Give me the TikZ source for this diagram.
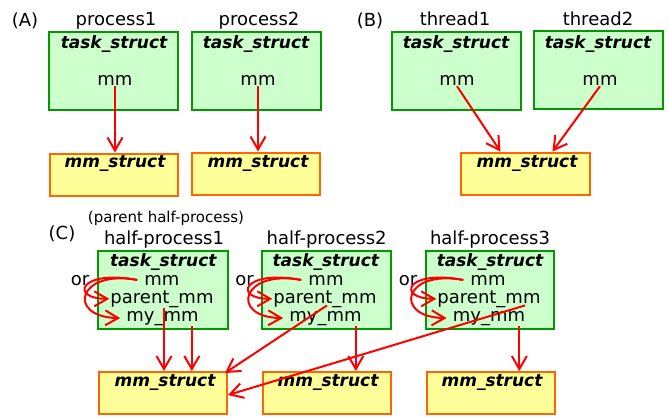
\documentclass[tikz,border=0pt]{standalone}
\usepackage{fontspec}
\setmainfont{DejaVu Sans}
\usetikzlibrary{arrows.meta}

\definecolor{TaskFill}{HTML}{CCFFCC}
\definecolor{TaskLine}{HTML}{009900}
\definecolor{MmFill}{HTML}{FFFF99}
\definecolor{MmLine}{HTML}{FF6600}
\definecolor{PtrRed}{HTML}{FF0000}

\tikzset{
  taskbox/.style={draw=TaskLine,fill=TaskFill,line width=2pt,minimum width=129pt,minimum height=78pt,inner sep=0pt},
  mmbox/.style={draw=MmLine,fill=MmFill,line width=2pt,minimum width=128pt,minimum height=42pt,inner sep=0pt},
  head/.style={anchor=base,inner sep=1pt,font=\fontsize{17}{20}\selectfont\bfseries\itshape},
  field/.style={anchor=base,inner sep=1pt,font=\fontsize{18}{21}\selectfont},
  caption/.style={anchor=base,inner sep=1pt,font=\fontsize{18}{22}\selectfont},
  note/.style={anchor=base,inner sep=1pt,font=\fontsize{15}{18}\selectfont},
  ptr/.style={draw=PtrRed,line width=2pt,-{Straight Barb[length=13pt,width=15pt]}},
}

\begin{document}
\begin{tikzpicture}[x=1pt,y=-1pt]
  \useasboundingbox (0,0) rectangle (669,418);

  % (A) two processes, each with its own mm_struct
  \node[caption] (lblA) at (25,26) {(A)};
  \node[caption] (nA1) at (116,25) {process1};
  \node[caption] (nA2) at (259,25) {process2};
  \node[taskbox] (tA1) at (113.5,71) {};
  \node[taskbox] (tA2) at (256,70.5) {};
  \node[head] (hA1) at (114,48) {task\_struct};
  \node[head] (hA2) at (256,48) {task\_struct};
  \node[field] (mA1) at (115,85) {mm};
  \node[field] (mA2) at (258,85) {mm};
  \node[mmbox] (sA1) at (113.5,174.5) {};
  \node[mmbox] (sA2) at (256,173.5) {};
  \node[head] (kA1) at (115,167) {mm\_struct};
  \node[head] (kA2) at (258,167) {mm\_struct};
  \draw[ptr] (mA1.south) -- (mA1.south |- sA1.north);
  \draw[ptr] (mA2.south) -- (mA2.south |- sA2.north);

  % (B) two threads sharing one mm_struct
  \node[caption] (lblB) at (370,26) {(B)};
  \node[caption] (nB1) at (455,25) {thread1};
  \node[caption] (nB2) at (598,25) {thread2};
  \node[taskbox] (tB1) at (456,70.5) {};
  \node[taskbox] (tB2) at (598.3,70) {};
  \node[head] (hB1) at (456,48) {task\_struct};
  \node[head] (hB2) at (598,48) {task\_struct};
  \node[field] (mB1) at (457,85) {mm};
  \node[field] (mB2) at (600,85) {mm};
  \node[mmbox,minimum width=129pt] (sB) at (525.5,173.5) {};
  \node[head] (kB) at (527,167) {mm\_struct};
  \draw[ptr] (mB1.south) -- ([xshift=-25pt]sB.north);
  \draw[ptr] (mB2.south) -- ([xshift=27pt]sB.north);

  % (C) half-processes: mm points either to parent_mm or my_mm
  \node[caption] (lblC) at (62,239) {(C)};
  \node[note] (par) at (166,222) {(parent half-process)};
  \node[caption] (nC1) at (164,244) {half-process1};
  \node[caption] (nC2) at (326.7,244) {half-process2};
  \node[caption] (nC3) at (490,244) {half-process3};
  \node[taskbox,minimum width=130pt] (tC1) at (163,290) {};
  \node[taskbox] (tC2) at (326.2,290.3) {};
  \node[taskbox,minimum width=128pt] (tC3) at (490,290) {};
  \node[head] (hC1) at (163.3,266.5) {task\_struct};
  \node[head] (hC2) at (325.8,266.5) {task\_struct};
  \node[head] (hC3) at (490,266.5) {task\_struct};
  \node[field] (mC1) at (162,285) {mm};
  \node[field] (mC2) at (326,285) {mm};
  \node[field] (mC3) at (488,285) {mm};
  \node[field] (pC1) at (162,303) {parent\_mm};
  \node[field] (pC2) at (325,303) {parent\_mm};
  \node[field] (pC3) at (489,303) {parent\_mm};
  \node[field] (yC1) at (162.5,321) {my\_mm};
  \node[field] (yC2) at (325.5,321) {my\_mm};
  \node[field] (yC3) at (489,321) {my\_mm};
  \node[field] (oC1) at (80,285) {or};
  \node[field] (oC2) at (244.5,285) {or};
  \node[field] (oC3) at (408,285) {or};
  \node[mmbox] (sC1) at (163,393) {};
  \node[mmbox] (sC2) at (326.7,393) {};
  \node[mmbox] (sC3) at (491,393) {};
  \node[head] (kC1) at (165,386) {mm\_struct};
  \node[head] (kC2) at (328,386) {mm\_struct};
  \node[head] (kC3) at (492,386) {mm\_struct};

  % mm -> parent_mm / my_mm loops
  \draw[ptr] ([xshift=-6pt]mC1.west) .. controls +(-58,-11) and +(-40,0) .. (pC1.west);
  \draw[ptr] ([xshift=-6pt]mC1.west) .. controls +(-60,-11) and +(-54,-1) .. ([xshift=-5pt]yC1.west);
  \draw[ptr] ([xshift=-6pt]mC2.west) .. controls +(-58,-11) and +(-40,0) .. (pC2.west);
  \draw[ptr] ([xshift=-6pt]mC2.west) .. controls +(-60,-11) and +(-54,-1) .. ([xshift=-5pt]yC2.west);
  \draw[ptr] ([xshift=-6pt]mC3.west) .. controls +(-58,-11) and +(-40,0) .. (pC3.west);
  \draw[ptr] ([xshift=-6pt]mC3.west) .. controls +(-60,-11) and +(-54,-1) .. ([xshift=-5pt]yC3.west);

  % parent_mm and my_mm pointers
  \draw[ptr] ([xshift=2pt]pC1.south) -- ([xshift=2pt]pC1.south |- sC1.north);
  \draw[ptr] ([xshift=-8pt]yC1.south east) -- ([xshift=-8pt]yC1.south east |- sC1.north);
  \draw[ptr] ([xshift=2pt,yshift=3pt]pC2.south) -- ([xshift=-3pt,yshift=-2pt]sC1.north east);
  \draw[ptr] ([xshift=-7pt]yC2.south east) -- ([xshift=-7pt]yC2.south east |- sC2.north);
  \draw[ptr] ([xshift=36pt,yshift=3pt]pC3.south) -- ([yshift=-2pt]sC1.east);
  \draw[ptr] ([xshift=-7pt]yC3.south east) -- ([xshift=-7pt]yC3.south east |- sC3.north);
\end{tikzpicture}
\end{document}
